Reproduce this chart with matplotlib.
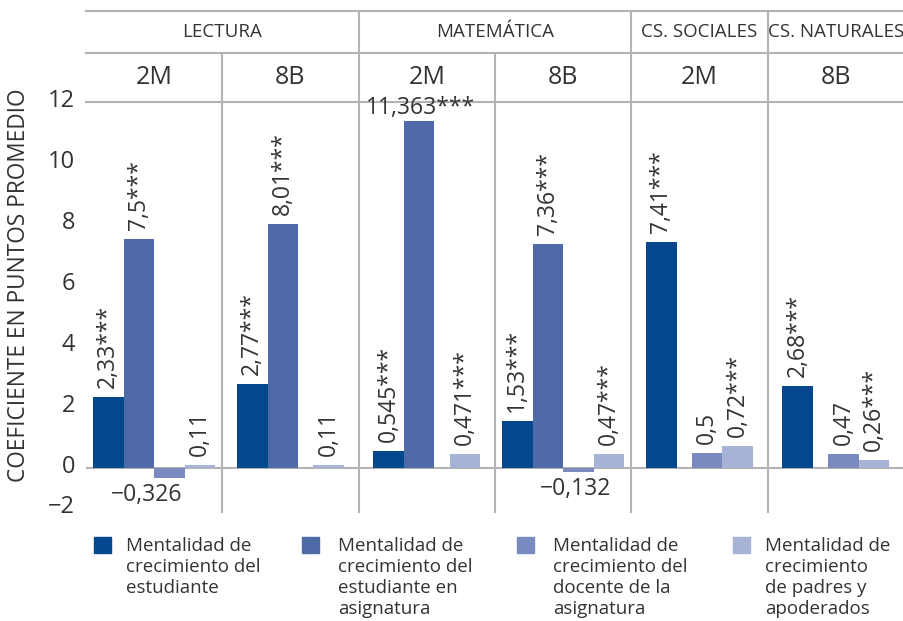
import matplotlib
matplotlib.use('Agg')
import matplotlib.pyplot as plt
from matplotlib.patches import Rectangle
from matplotlib.transforms import ScaledTranslation, blended_transform_factory

plt.rcParams['font.family'] = ['Open Sans', 'DejaVu Sans']

# ---------------- data ----------------
subjects = ['LECTURA', 'MATEMÁTICA', 'CS. SOCIALES', 'CS. NATURALES']
subject_spans = [2, 2, 1, 1]
grades = ['2M', '8B', '2M', '8B', '2M', '8B']
series_names = [
    'Mentalidad de\ncrecimiento del\nestudiante',
    'Mentalidad de\ncrecimiento del\nestudiante en\nasignatura',
    'Mentalidad de\ncrecimiento del\ndocente de la\nasignatura',
    'Mentalidad de\ncrecimiento\nde padres y\napoderados',
]
estudiante = [2.33, 2.77, 0.545, 1.53, 7.41, 2.68]
asignatura = [7.5, 8.01, 11.363, 7.36, None, None]
docente = [-0.326, None, None, -0.132, 0.5, 0.47]
padres = [0.11, 0.11, 0.471, 0.47, 0.72, 0.26]
estudiante_sig = ['***', '***', '***', '***', '***', '***']
asignatura_sig = ['***', '***', '***', '***', '', '']
docente_sig = ['', '', '', '', '', '']
padres_sig = ['', '', '***', '***', '***', '***']
yticks = [0, 2, 4, 6, 8, 10, 12]
ytick_bottom_label = '−2'

series = [estudiante, asignatura, docente, padres]
sigs = [estudiante_sig, asignatura_sig, docente_sig, padres_sig]
colors = ['#03478f', '#4e6ba8', '#798bbe', '#a6b2d6']
txt_color = '#333333'
line_color = '#b3b3b3'

# ---------------- figure ----------------
W, H = 904, 621
fig = plt.figure(figsize=(W / 100, H / 100), dpi=100)
ax_l, ax_r, ax_t, ax_b = 86, 904, 102, 512
ax = fig.add_axes([ax_l / W, (H - ax_b) / H, (ax_r - ax_l) / W, (ax_b - ax_t) / H])

ngroups = len(grades)
ax.set_xlim(0, ngroups)
ax.set_ylim(-1.44, 12)
for s in ax.spines.values():
    s.set_visible(False)
ax.set_xticks([])

PX = 0.72  # points per pixel at dpi 100
w = 0.224
for g in range(ngroups):
    present = [series[s][g] is not None for s in range(4)]
    total = sum(w if p else w / 2 for p in present)
    cursor = g + 0.5 - total / 2
    for s in range(4):
        v = series[s][g]
        if v is None:
            cursor += w / 2
            continue
        xc = cursor + w / 2
        ax.bar([xc], [v], width=w, color=colors[s], zorder=3)
        lbl = (str(v).replace('.', ',') + sigs[s][g]).replace('-', '−')
        if v < 0:
            dx = -23 if g == 0 else -3
            ax.annotate(lbl, (xc, v), xytext=(dx * PX, -5 * PX), textcoords='offset points',
                        ha='center', va='top', fontsize=16.5, color=txt_color, zorder=4)
        elif v > 10:
            ax.annotate(lbl, (xc, v), xytext=(1 * PX, 1 * PX), textcoords='offset points',
                        ha='center', va='bottom', fontsize=16.5, color=txt_color, zorder=4,
                        annotation_clip=False)
        else:
            ax.annotate(lbl, (xc, v), xytext=(0, 9 * PX), textcoords='offset points',
                        ha='center', va='bottom', rotation=90, fontsize=16.5, color=txt_color,
                        zorder=4)
        cursor += w

# zero line
ax.axhline(0, color=line_color, lw=1.5, zorder=2)

# header / grid lines
y_sub_top = (ax_b - 11) / (ax_b - ax_t)
y_sub_bot = (ax_b - 53) / (ax_b - ax_t)
for yy in [1.0, y_sub_bot, y_sub_top]:
    ax.plot([0, 1], [yy, yy], transform=ax.transAxes, color=line_color, lw=1.5, clip_on=False)

bt = blended_transform_factory(ax.transData, ax.transAxes)
boundaries = []
acc = 0
for span in subject_spans:
    acc += span
    boundaries.append(acc)
for xb in range(1, ngroups):
    top = y_sub_top if xb in boundaries else y_sub_bot
    ax.plot([xb, xb], [0, top], transform=bt, color=line_color, lw=1.5, clip_on=False)

# subject labels
start = 0
for name, span in zip(subjects, subject_spans):
    ax.text(start + span / 2, (y_sub_top + y_sub_bot) / 2, name, transform=bt,
            ha='center', va='center', fontsize=13.5, color=txt_color)
    start += span
for g, gr in enumerate(grades):
    ax.text(g + 0.5, (1 + y_sub_bot) / 2, gr, transform=bt, ha='center', va='center',
            fontsize=18, color=txt_color)

# y ticks
ax.set_yticks(yticks)
ax.set_yticklabels([str(t) for t in yticks])
ax.tick_params(axis='y', length=0, pad=8, labelsize=17, labelcolor=txt_color)
off = ScaledTranslation(0, 4 / 100, fig.dpi_scale_trans)
for lab in ax.get_yticklabels():
    lab.set_transform(lab.get_transform() + off)
ax.text(0, 0, ytick_bottom_label,
        transform=ax.transAxes + ScaledTranslation(-11 / 100, 5 / 100, fig.dpi_scale_trans),
        ha='right', va='center', fontsize=17, color=txt_color)

# y label
fig.text(19 / W, 1 - 285 / H, 'COEFICIENTE EN PUNTOS PROMEDIO', rotation=90,
         ha='center', va='center', fontsize=16.3, color=txt_color)

# legend
sq_x = [94, 302, 517, 733]
tx_x = [126, 338, 553, 765]
for i in range(4):
    fig.add_artist(Rectangle((sq_x[i] / W, 1 - 553 / H), 17 / W, 16 / H,
                             transform=fig.transFigure, color=colors[i]))
    fig.text(tx_x[i] / W, 1 - 537 / H, series_names[i], ha='left', va='top',
             fontsize=13.5, color=txt_color, linespacing=1.22)

fig.savefig('out.png', dpi=100)
